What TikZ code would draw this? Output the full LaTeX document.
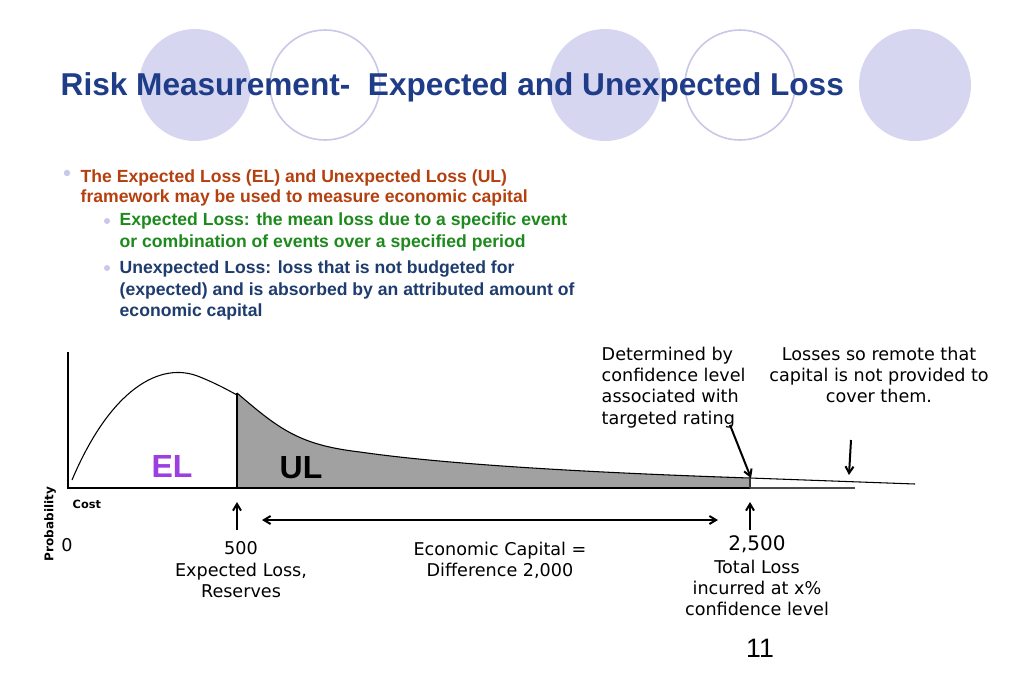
\documentclass[tikz,border=0pt]{standalone}
\usepackage{fontspec}
\setmainfont{Liberation Sans}
\newfontfamily\dv{DejaVu Sans}
\usetikzlibrary{arrows.meta}
\definecolor{lav}{HTML}{D6D6F0}
\definecolor{lavline}{HTML}{C8C8E8}
\definecolor{ttl}{HTML}{1F3C88}
\definecolor{redb}{HTML}{B5400F}
\definecolor{grn}{HTML}{1E8A1E}
\definecolor{blu}{HTML}{1F3C6E}
\definecolor{purp}{HTML}{9B3FE0}
\begin{document}
\begin{tikzpicture}[x=0.75pt,y=-0.75pt,
  fc/.style={fill=lav,draw=none},
  oc/.style={draw=lavline,line width=1.2pt,fill=white},
  bl/.style={anchor=west,font=\bfseries\fontsize{13.2}{15}\selectfont},
  lbl/.style={font=\dv\fontsize{13.2}{16}\selectfont,align=center},
  arr/.style={-{Straight Barb[length=5pt,width=6pt]},line width=1.5pt}]
\useasboundingbox (0,0) rectangle (1024,683);
\fill[white] (0,0) rectangle (1024,683);
\node[fc,circle,minimum size=112*0.75pt] (c1) at (195,85) {};
\node[oc,circle,minimum size=110*0.75pt] (c2) at (325,85) {};
\node[fc,circle,minimum size=112*0.75pt] (c3) at (605,85) {};
\node[oc,circle,minimum size=110*0.75pt] (c4) at (740,85) {};
\node[fc,circle,minimum size=112*0.75pt] (c5) at (915,85) {};
\node[anchor=west,text=ttl,font=\bfseries\fontsize{23.7}{27}\selectfont] (t) at (56,87) {Risk Measurement-\ \ Expected and Unexpected Loss};
% bullets
\fill[lavline] (67,173) circle (3.2*0.75pt);
\node[bl,text=redb] (b1) at (76,178) {The Expected Loss (EL) and Unexpected Loss (UL)};
\node[bl,text=redb] (b2) at (76,198) {framework may be used to measure economic capital};
\fill[lavline] (107,221) circle (3*0.75pt);
\node[bl,text=grn] (g1) at (115,221) {Expected Loss: the mean loss due to a specific event};
\node[bl,text=grn] (g2) at (115,243) {or combination of events over a specified period};
\fill[lavline] (107,268) circle (3*0.75pt);
\node[bl,text=blu] (u1) at (115,269) {Unexpected Loss: loss that is not budgeted for};
\node[bl,text=blu] (u2) at (115,291) {(expected) and is absorbed by an attributed amount of};
\node[bl,text=blu] (u3) at (115,312) {economic capital};
% chart
\fill[gray!95!black!70] (237,393) .. controls (280,430) and (300,445) .. (360,452)
  .. controls (450,465) and (600,473) .. (750,478) -- (750,488) -- (237,488) -- cycle;
\draw[line width=0.8pt] (237,393) .. controls (280,430) and (300,445) .. (360,452)
  .. controls (450,465) and (600,473) .. (750,478) -- (915,484);
\draw[line width=0.8pt] (72,480) .. controls (110,390) and (160,360) .. (200,377) .. controls (215,383) and (228,390) .. (237,395);
\draw[gray!60!black,line width=1pt] (750,488) -- (855,488);
\draw[line width=1pt] (68,352) -- (68,488) -- (750,488);
\draw[line width=2pt] (237,393) -- (237,488);
\draw[gray!40!black,line width=0.8pt] (750,477) -- (750,488);
\node[text=purp,font=\bfseries\fontsize{24}{26}\selectfont] (el) at (172,466) {EL};
\node[font=\bfseries\fontsize{24}{26}\selectfont] (ul) at (301,468) {UL};
\node[anchor=west,font=\dv\bfseries\fontsize{8.5}{10}\selectfont] (cost) at (68,504) {Cost};
\node[rotate=90,font=\dv\bfseries\fontsize{9}{10}\selectfont] (prob) at (50,524) {Probability};
\node[lbl] (zero) at (67,545) {0};
\coordinate (a1s) at (237,530); \coordinate (a1e) at (237,502);
\coordinate (a2s) at (750,530); \coordinate (a2e) at (750,502);
\draw[arr] (a1s) -- (a1e);
\draw[arr] (a2s) -- (a2e);
\coordinate (h1) at (262,520); \coordinate (h2) at (718,520);
\draw[arr,{Straight Barb[length=5pt,width=6pt]}-{Straight Barb[length=5pt,width=6pt]}] (h1) -- (h2);
\node[lbl,anchor=north west,align=left] (det) at (597,342) {Determined by\\confidence level\\associated with\\targeted rating};
\node[lbl,anchor=north] (rem) at (879,342) {Losses so remote that\\capital is not provided to\\cover them.};
\coordinate (d1) at (730,425); \coordinate (d2) at (751,478);
\draw[arr] (d1) -- (d2);
\coordinate (r1) at (851,440); \coordinate (r2) at (849,475);
\draw[arr] (r1) -- (r2);
\node[lbl,anchor=north] (l500) at (241,537) {500\\Expected Loss,\\Reserves};
\node[lbl,anchor=north] (ec) at (500,537) {Economic Capital =\\Difference 2,000};
\node[lbl,font=\dv\fontsize{15}{16}\selectfont] (l2500) at (757,544) {2,500};
\node[lbl,anchor=north] (tl) at (757,555) {Total Loss\\incurred at x\%\\confidence level};
\node[font=\fontsize{20}{24}\selectfont] (pg) at (760,648) {11};
\end{tikzpicture}
\end{document}
